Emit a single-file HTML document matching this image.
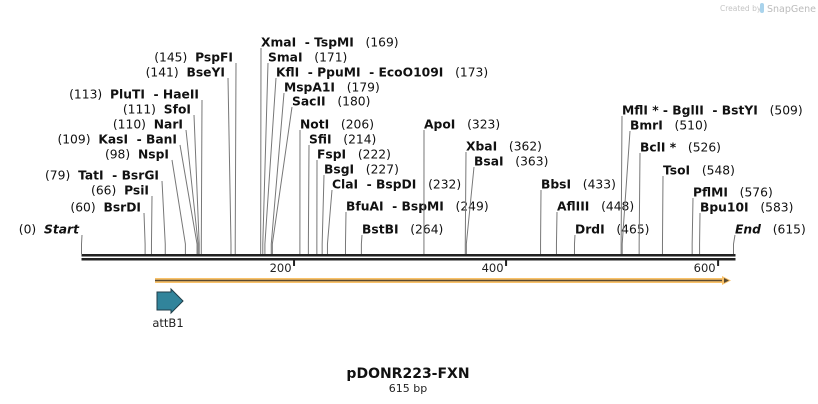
<!DOCTYPE html>
<html><head><meta charset="utf-8"><style>
body{margin:0;background:#fff;width:818px;height:404px;overflow:hidden}
svg{display:block;font-family:"DejaVu Sans","Liberation Sans",sans-serif}
</style></head><body>
<svg id="map" width="818" height="404" viewBox="0 0 818 404" xmlns="http://www.w3.org/2000/svg">
<g>
<text x="720" y="11" font-size="7.5" fill="#c4c4c4">Created by</text>
<rect x="760" y="3" width="4" height="10" rx="2" fill="#a9d3ec"/>
<text x="767" y="12" font-size="9.5" fill="#bbb">SnapGene</text>
</g>
<g id="backbone"></g>
<g id="sites"></g>
<g>
<rect x="155" y="278" width="570" height="5" fill="#f9c26a"/>
<line x1="155" y1="280.5" x2="726" y2="280.5" stroke="#5a4a30" stroke-width="1.5"/>
<polygon points="722,276 731,280.5 722,285" fill="#f9c26a"/>
<polygon points="724,278 729,280.5 724,283" fill="#5a4a30"/>
</g>
<g>
<polygon points="157,292 171,292 171,289 183,301 171,313 171,310 157,310" fill="#31849b" stroke="#1f3d48" stroke-width="1"/>
<text x="168" y="327" font-size="11.5" text-anchor="middle" fill="#222">attB1</text>
</g>
<text x="408" y="378" font-size="14" font-weight="bold" text-anchor="middle" fill="#111">pDONR223-FXN</text>
<text x="408" y="392" font-size="11" text-anchor="middle" fill="#222">615 bp</text>
</svg>
<script>
const seqLength = 615;
const tickValues = [200, 400, 600];
const enzymeNames = ["Start","BsrDI","PsiI","TatI  - BsrGI","NspI","KasI  - BanI","NarI","SfoI","PluTI  - HaeII","BseYI","PspFI","XmaI  - TspMI","SmaI","KflI  - PpuMI  - EcoO109I","MspA1I","SacII","NotI","SfiI","FspI","BsgI","ClaI  - BspDI","BfuAI  - BspMI","BstBI","ApoI","XbaI","BsaI","BbsI","AflIII","DrdI","MflI * - BglII  - BstYI","BmrI","BclI *","TsoI","PflMI","Bpu10I","End"];
const enzymeSites = [0,60,66,79,98,109,110,111,113,141,145,169,171,173,179,180,206,214,222,227,232,249,264,323,362,363,433,448,465,509,510,526,548,576,583,615];
// layout: label anchor x, label row y, side (L = label left of line)
const labelAnchorX = [82,144,152,162,172,180,186,194,202,228,236,261,268,276,284,292,300,309,317,324,332,346,362,424,466,474,541,557,575,622,630,640,663,693,700,735];
const labelRowY = [229,207,190,175,154,139,124,109,94,72,57,42,57,72,87,101,124,139,154,169,184,206,229,124,146,161,184,206,229,110,125,147,170,192,207,229];
const labelSide = ["L","L","L","L","L","L","L","L","L","L","L","R","R","R","R","R","R","R","R","R","R","R","R","R","R","R","R","R","R","R","R","R","R","R","R","R"];

const NS="http://www.w3.org/2000/svg";
const x0=81.5, x1=733.5, yB=254;
const xs = bp => x0 + (bp/seqLength)*(x1-x0);
function mk(t,a,p){const e=document.createElementNS(NS,t);for(const k in a)e.setAttribute(k,a[k]);p.appendChild(e);return e;}
const bb=document.getElementById('backbone');
let l=mk('rect',{x:x0,y:yB,width:x1-x0+2,height:2.5,fill:'#222'},bb);


l=mk('rect',{x:x0,y:yB+4,width:x1-x0+2,height:2.5,fill:'#222'},bb);


tickValues.forEach(v=>{
  const x=xs(v);
  const t=mk('rect',{x:x-0.5,y:yB+5,width:2,height:7,fill:'#222'},bb);
  
  
  const tx=mk('text',{x:x-2,y:yB+18,'font-size':11.5,'text-anchor':'end',fill:'#222'},bb);
  tx.textContent=v;
  
  
});
const sg=document.getElementById('sites');
enzymeNames.forEach((name,i)=>{
  const sx=xs(enzymeSites[i]);
  const ax=labelAnchorX[i], ly=labelRowY[i];
  const g=mk('g',{},sg);
  
  
  const top=ly+6;
  const mid=Math.max(top,yB-10);
  mk('polyline',{points:`${ax},${top} ${sx},${mid} ${sx},${yB}`,fill:'none',stroke:'#777','stroke-width':1},g);
  const isEnd=(name==="Start"||name==="End");
  const t=mk('text',{y:ly+4.5,'font-size':12.3,fill:'#111','xml:space':'preserve'},g);
  t.setAttribute('style','white-space:pre');
  const num=mk('tspan',{},t); num.textContent='('+enzymeSites[i]+')';
  const nm=mk('tspan',{'font-weight':'bold'},t); nm.textContent=name;
  if(isEnd) nm.setAttribute('font-style','italic');
  if(labelSide[i]==='L'){
    t.setAttribute('x',ax-3); t.setAttribute('text-anchor','end');
    num.textContent='('+enzymeSites[i]+')  ';
    t.appendChild(nm);
  } else {
    t.setAttribute('x',ax); t.setAttribute('text-anchor','start');
    t.insertBefore(nm,num);
    num.textContent='   ('+enzymeSites[i]+')';
  }
});
</script>
</body></html>
